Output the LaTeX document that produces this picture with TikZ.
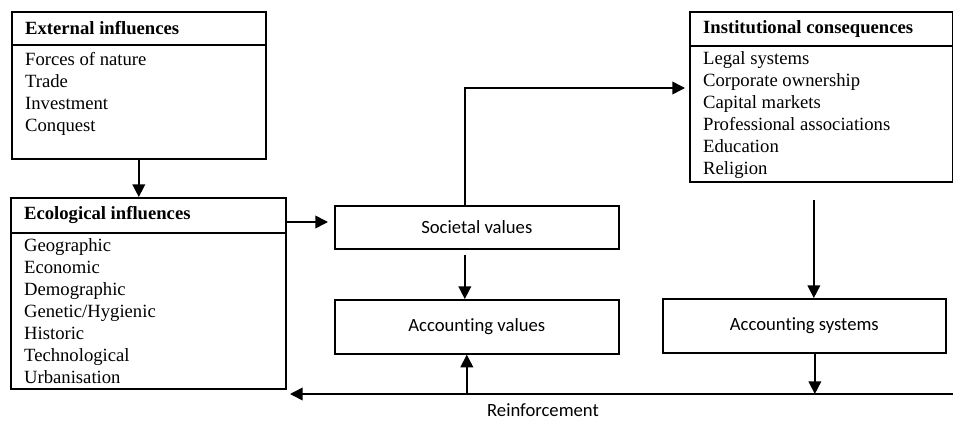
\documentclass[tikz,border=0pt]{standalone}
\usepackage{fontspec}
\setmainfont{Liberation Serif}
\newfontfamily\calibri[Ligatures=NoCommon]{Carlito}
\usetikzlibrary{arrows.meta,positioning}

\begin{document}
\begin{tikzpicture}[x=0.75pt,y=-0.75pt,line width=1.2pt,>={Triangle[length=9.5pt,width=9.5pt]},
  box/.style={draw,anchor=north west,inner sep=0pt},
  title/.style={anchor=west,inner sep=0pt,font=\fontsize{14}{16.5}\selectfont\bfseries},
  items/.style={anchor=north west,inner sep=0pt,align=left,font=\fontsize{14}{16.5}\selectfont},
  valbox/.style={box,font=\calibri\fontsize{14}{16.5}\selectfont}]
  \useasboundingbox (0,0) rectangle (953,421);
  % external influences
  \node[box,minimum width=190.5pt,minimum height=24.75pt] (ext-h) at (11,11) {};
  \node[title,right=10pt of ext-h.west] (ext-t) {External influences};
  \node[box,minimum width=190.5pt,minimum height=85.5pt] (ext-b) at (11,44) {};
  \node[items,below right=5.5pt and 10pt of ext-b.north west] (ext-l)
    {Forces of nature\\Trade\\Investment\\Conquest};
  % ecological influences
  \node[box,minimum width=206.25pt,minimum height=26.25pt] (eco-h) at (10,197) {};
  \node[title,right=10pt of eco-h.west] (eco-t) {Ecological influences};
  \node[box,minimum width=206.25pt,minimum height=117pt] (eco-b) at (10,232) {};
  \node[items,below right=4pt and 10pt of eco-b.north west] (eco-l)
    {Geographic\\Economic\\Demographic\\Genetic/Hygienic\\Historic\\Technological\\Urbanisation};
  % institutional consequences
  \node[box,minimum width=197.25pt,minimum height=25.5pt] (inst-h) at (689,11) {};
  \node[title,right=10pt of inst-h.west] (inst-t) {Institutional consequences};
  \node[box,minimum width=197.25pt,minimum height=102pt] (inst-b) at (689,45) {};
  \node[items,below right=4pt and 10pt of inst-b.north west] (inst-l)
    {Legal systems\\Corporate ownership\\Capital markets\\Professional associations\\Education\\Religion};
  % values and systems
  \node[valbox,minimum width=213pt,minimum height=32.25pt] (soc) at (334,205) {Societal values};
  \node[valbox,minimum width=213pt,minimum height=40.5pt] (accv) at (334,299) {Accounting values};
  \node[valbox,minimum width=212.25pt,minimum height=40.5pt] (accs) at (662,298) {Accounting systems};
  % connectors
  \draw[->] (ext-b.south) -- (ext-b.south |- eco-h.north);
  \draw[->] (eco-h.east |- 0,222) -- ([xshift=-4.5pt]soc.west |- 0,222);
  \coordinate (up) at ([xshift=-9pt]soc.north);
  \draw[->] (up) |- ([xshift=-3pt]inst-b.west |- 0,88);
  \draw[->] ([xshift=-9pt,yshift=-3.75pt]soc.south) -- ([xshift=-9pt]accv.north);
  \draw[->] ([xshift=-5.6pt,yshift=-12.75pt]inst-b.south) -- ([xshift=-5.6pt]inst-b.south |- accs.north);
  % reinforcement loop
  \coordinate (fb-r) at (953,394);
  \coordinate (fb-l) at (290,394);
  \draw[->] ([xshift=7.9pt]accs.south) -- ([xshift=7.9pt]accs.south |- fb-r);
  \draw[->] (fb-r) -- (fb-l);
  \draw[->] ([xshift=-7.5pt]accv.south |- fb-r) -- ([xshift=-7.5pt]accv.south);
  \node[inner sep=0pt,font=\calibri\fontsize{14}{16.5}\selectfont] (reinf) at (543,410) {Reinforcement};
\end{tikzpicture}
\end{document}
